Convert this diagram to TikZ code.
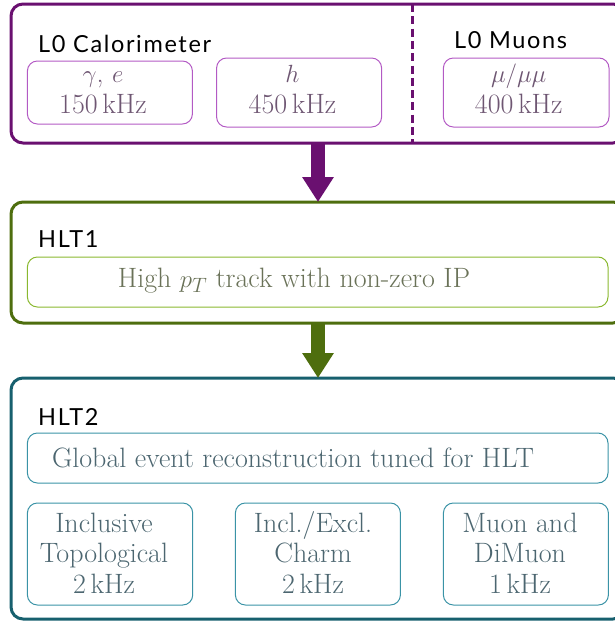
\documentclass[tikz,border=0pt]{standalone}
\usepackage{fontspec}
\newfontfamily\headfont[LetterSpace=7]{Lato}
\usetikzlibrary{arrows.meta}
\definecolor{lzero}{HTML}{6A1070}
\definecolor{lzeroin}{HTML}{B35AC4}
\definecolor{lzerotext}{HTML}{6E5672}
\definecolor{hltone}{HTML}{4E6E0E}
\definecolor{hltonein}{HTML}{8AB830}
\definecolor{hltonetext}{HTML}{6A7258}
\definecolor{hlttwo}{HTML}{17606E}
\definecolor{hlttwoin}{HTML}{3A93A6}
\definecolor{hlttwotext}{HTML}{4C6670}
\tikzset{
  outerbox/.style={draw, line width=3pt, rounded corners=12pt, inner sep=0pt, outer sep=0pt, anchor=north west},
  innerbox/.style={draw, line width=1pt, rounded corners=10pt, inner sep=0pt, outer sep=0pt, anchor=north west},
  heading/.style={inner sep=0pt, anchor=base west, font=\headfont\fontsize{23.5}{28}\selectfont, text=black},
  boxtext/.style={inner sep=0pt, anchor=base, align=center, font=\fontsize{28}{30.5}\selectfont},
  bigarrow/.style={line width=14pt, -{Triangle[width=30pt,length=25pt]}},
  dividerline/.style={line width=3pt, dash pattern=on 8pt off 4.3pt}
}
\begin{document}
\begin{tikzpicture}[x=1pt,y=-1pt]
\useasboundingbox (0,0) rectangle (614,621);
% L0
\node[outerbox, draw=lzero, minimum width=614pt, minimum height=139pt] (l0) at (11,4) {};
\draw[dividerline, lzero] (412.5,0 |- l0.north) -- (412.5,0 |- l0.south);
\node[heading] (l0calo) at (38,52) {L0 Calorimeter};
\node[heading] (l0muon) at (454,48) {L0 Muons};
\node[innerbox, draw=lzeroin, minimum width=165pt, minimum height=63pt] (ge) at (27.4,61) {};
\node[innerbox, draw=lzeroin, minimum width=165pt, minimum height=69pt] (hh) at (216.6,58) {};
\node[innerbox, draw=lzeroin, minimum width=165.6pt, minimum height=69pt] (mu) at (443.4,58) {};
\node[boxtext, text=lzerotext] (getext) at (103,113) {$\gamma$, $e$\\150\,kHz};
\node[boxtext, text=lzerotext] (hhtext) at (292.5,113) {$h$\\450\,kHz};
\node[boxtext, text=lzerotext] (mutext) at (518.7,113) {$\mu/\mu\mu$\\400\,kHz};
% HLT1
\node[outerbox, draw=hltone, minimum width=614pt, minimum height=121pt] (hlt1) at (11,202) {};
\node[heading] (hlt1head) at (38,247) {HLT1};
\node[innerbox, draw=hltonein, minimum width=580.6pt, minimum height=50pt] (track) at (27.4,257) {};
\node[boxtext, text=hltonetext] (tracktext) at (294,287) {High $p_T$ track with non-zero IP};
% HLT2
\node[outerbox, draw=hlttwo, minimum width=614pt, minimum height=241pt] (hlt2) at (11,378) {};
\node[heading] (hlt2head) at (38,425) {HLT2};
\node[innerbox, draw=hlttwoin, minimum width=580.6pt, minimum height=50pt] (glob) at (27.4,433) {};
\node[boxtext, text=hlttwotext] (globtext) at (293,467) {Global event reconstruction tuned for HLT};
\node[innerbox, draw=hlttwoin, minimum width=165.3pt, minimum height=102pt] (topo) at (27.4,503) {};
\node[innerbox, draw=hlttwoin, minimum width=165pt, minimum height=102pt] (charm) at (235.4,503) {};
\node[innerbox, draw=hlttwoin, minimum width=165pt, minimum height=102pt] (dimu) at (443.4,503) {};
\node[boxtext, text=hlttwotext] (topotext) at (104,593) {Inclusive\\Topological\\2\,kHz};
\node[boxtext, text=hlttwotext] (charmtext) at (313,593) {Incl./Excl.\\Charm\\2\,kHz};
\node[boxtext, text=hlttwotext] (dimutext) at (520,593) {Muon and\\DiMuon\\1\,kHz};
% arrows
\draw[bigarrow, draw=lzero, fill=lzero] (l0.south) -- (hlt1.north);
\draw[bigarrow, draw=hltone, fill=hltone] (hlt1.south) -- (hlt2.north);
\end{tikzpicture}
\end{document}
